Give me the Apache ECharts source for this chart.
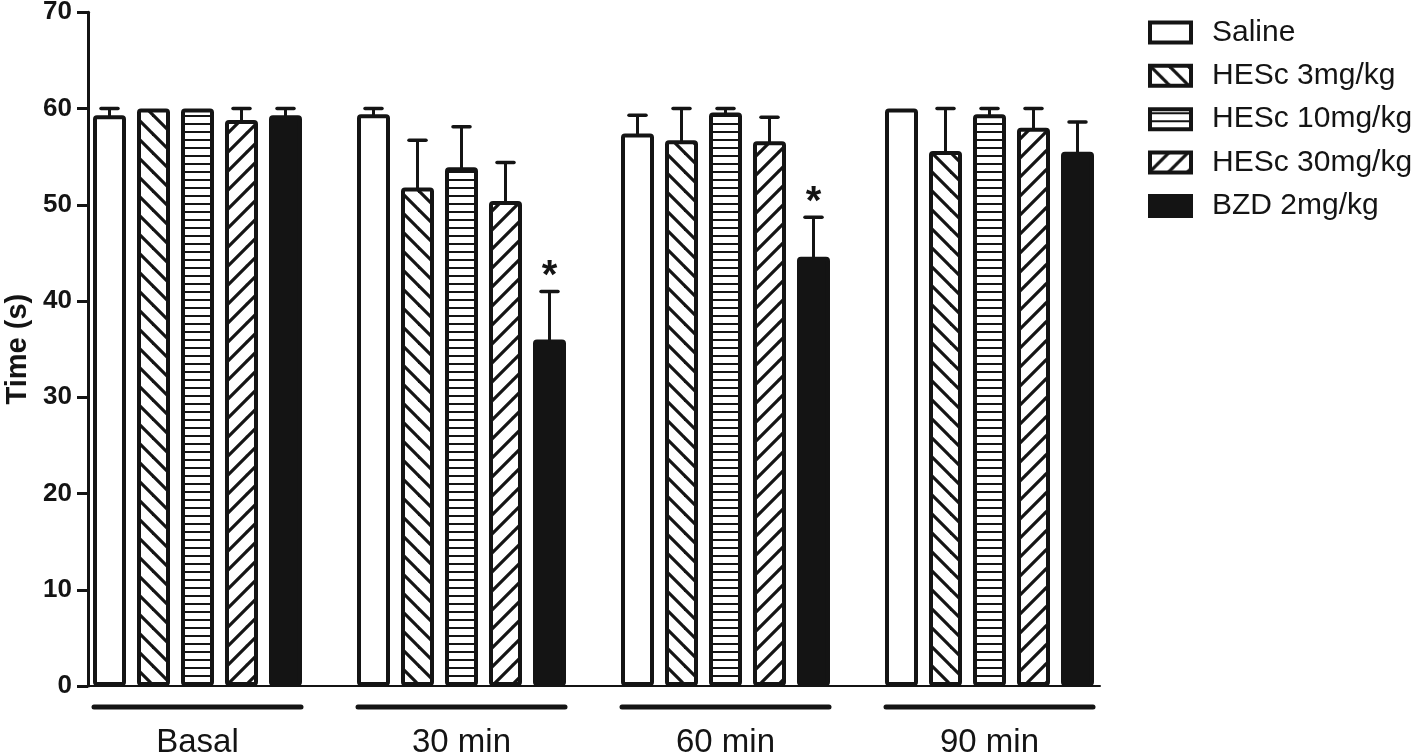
<!DOCTYPE html>
<html>
<head>
<meta charset="utf-8">
<script src="https://cdn.jsdelivr.net/npm/echarts@6/dist/echarts.min.js"></script>
<style>
html,body{margin:0;padding:0;background:#fff;}
#chart{width:1418px;height:753px;}
</style>
</head>
<body>
<div id="chart"></div>
<script>
// ---- data ----
var categories = ['Basal', '30 min', '60 min', '90 min'];
var seriesNames = ['Saline', 'HESc 3mg/kg', 'HESc 10mg/kg', 'HESc 30mg/kg', 'BZD 2mg/kg'];
var saline    = [59.3, 59.4, 57.4, 60.0];
var salineErr = [0.7, 0.6, 1.9, 0];
var hesc3     = [60.0, 51.8, 56.7, 55.6];
var hesc3Err  = [0, 4.9, 3.3, 4.4];
var hesc10    = [60.0, 53.9, 59.6, 59.4];
var hesc10Err = [0, 4.2, 0.4, 0.6];
var hesc30    = [58.8, 50.4, 56.6, 58.0];
var hesc30Err = [1.2, 4.0, 2.5, 2.0];
var bzd       = [59.3, 36.0, 44.6, 55.5];
var bzdErr    = [0.7, 5.0, 4.1, 3.1];
var bzdSig    = ['', '*', '*', ''];
var yTicks    = [0, 10, 20, 30, 40, 50, 60, 70];

var means = [saline, hesc3, hesc10, hesc30, bzd];
var errs  = [salineErr, hesc3Err, hesc10Err, hesc30Err, bzdErr];

// ---- styles ----
var INK = '#141414';
var FONT = '"Liberation Sans", Arial, Helvetica, sans-serif';
var BAR_W = 33, BAR_GAP = 11, BAR_PITCH = BAR_W + BAR_GAP;

function makePattern(kind) {
  var s = kind === 'h' ? 8 : 19;
  var c = document.createElement('canvas');
  c.width = s; c.height = s;
  var g = c.getContext('2d');
  g.fillStyle = '#fff'; g.fillRect(0, 0, s, s);
  g.strokeStyle = INK;
  if (kind === 'h') {
    g.lineWidth = 2;
    g.beginPath(); g.moveTo(0, 4); g.lineTo(s, 4); g.stroke();
  } else {
    g.lineWidth = 3.2;
    g.lineCap = 'square';
    for (var k = -1; k <= 1; k++) {
      g.beginPath();
      if (kind === 'back') { g.moveTo(k * s, 0); g.lineTo(k * s + s, s); }
      else { g.moveTo(k * s, s); g.lineTo(k * s + s, 0); }
      g.stroke();
    }
  }
  return { image: c, repeat: 'repeat' };
}

var fills = ['#ffffff', makePattern('back'), makePattern('h'), makePattern('fwd'), INK];

var barSeries = seriesNames.map(function (name, i) {
  return {
    name: name,
    type: 'bar',
    xAxisIndex: 0, yAxisIndex: 0,
    barWidth: BAR_W,
    barGap: (BAR_GAP / BAR_W * 100).toFixed(2) + '%',
    data: means[i],
    itemStyle: { color: fills[i], borderColor: INK, borderWidth: 4, borderRadius: 2 },
    emphasis: { disabled: true },
    z: 2
  };
});

var errData = [];
for (var s = 0; s < means.length; s++) {
  for (var c = 0; c < categories.length; c++) {
    errData.push([c, means[s][c], s, errs[s][c]]);
  }
}

var sigData = [];
for (var c2 = 0; c2 < categories.length; c2++) {
  if (bzdSig[c2]) sigData.push([c2, bzd[c2] + bzdErr[c2], 4]);
}

var underlineData = categories.map(function (name, i) { return [i, 0]; });

var option = {
  animation: false,
  backgroundColor: '#ffffff',
  textStyle: { fontFamily: FONT },
  grid: [
    { left: 65.5, right: 296.5, top: 12.3, bottom: 67, containLabel: false, outerBoundsMode: 'none' },
    { left: 88, right: 318, top: 12.3, bottom: 67, containLabel: false, outerBoundsMode: 'none' }
  ],
  legend: {
    data: seriesNames,
    orient: 'vertical',
    left: 1148, top: 17.4,
    padding: 0,
    itemWidth: 41, itemHeight: 20,
    itemGap: 13.4,
    icon: 'rect',
    selectedMode: false,
    itemStyle: { borderWidth: 4, borderColor: INK },
    textStyle: { fontSize: 30, color: INK, fontFamily: FONT, lineHeight: 30, padding: [0, 0, 0, 16] }
  },
  xAxis: [
    {
      type: 'category', gridIndex: 0, data: categories,
      axisLine: { show: false }, axisTick: { show: false },
      axisLabel: { fontSize: 33, color: INK, margin: 40, fontFamily: FONT }
    },
    {
      type: 'value', gridIndex: 1, min: 0, max: 1,
      axisLine: { show: true, lineStyle: { color: INK, width: 2 } },
      axisTick: { show: false }, axisLabel: { show: false }, splitLine: { show: false }
    }
  ],
  yAxis: [
    { type: 'value', gridIndex: 0, min: 0, max: 70, interval: 10, show: false },
    {
      type: 'value', gridIndex: 1, min: yTicks[0], max: yTicks[yTicks.length - 1], interval: 10,
      name: 'Time (s)', nameLocation: 'middle', nameGap: 55, nameRotate: 90,
      nameTextStyle: { fontSize: 29, fontWeight: 'bold', color: INK, fontFamily: FONT },
      axisLine: { show: true, lineStyle: { color: INK, width: 3 } },
      axisTick: { show: true, length: 11, lineStyle: { color: INK, width: 3 } },
      axisLabel: { fontSize: 26, fontWeight: 'bold', color: INK, margin: 16, fontFamily: FONT },
      splitLine: { show: false }
    }
  ],
  series: barSeries.concat([
    {
      type: 'custom', name: 'errors', xAxisIndex: 0, yAxisIndex: 0, clip: false, z: 3,
      encode: { x: 0, y: 1 },
      data: errData,
      renderItem: function (params, api) {
        var c = api.value(0), m = api.value(1), s = api.value(2), e = api.value(3);
        if (!e) return null;
        var base = api.coord([c, m]);
        var top = api.coord([c, m + e]);
        var x = base[0] + (s - 2) * BAR_PITCH;
        return {
          type: 'group', children: [
            { type: 'line', shape: { x1: x, y1: base[1] + 2, x2: x, y2: top[1] }, style: { stroke: INK, lineWidth: 3 } },
            { type: 'line', shape: { x1: x - 8.5, y1: top[1], x2: x + 8.5, y2: top[1] }, style: { stroke: INK, lineWidth: 3.5, lineCap: 'round' } }
          ]
        };
      }
    },
    {
      type: 'custom', name: 'sig', xAxisIndex: 0, yAxisIndex: 0, clip: false, z: 3,
      encode: { x: 0, y: 1 },
      data: sigData,
      renderItem: function (params, api) {
        var c = api.value(0), y = api.value(1), s = api.value(2);
        var p = api.coord([c, y]);
        return {
          type: 'text', x: p[0] + (s - 2) * BAR_PITCH, y: p[1] - 14,
          style: { text: bzdSig[c], fontSize: 40, fontWeight: 'bold', fontFamily: FONT, fill: INK, align: 'center', verticalAlign: 'middle' }
        };
      }
    },
    {
      type: 'custom', name: 'underline', xAxisIndex: 0, yAxisIndex: 0, clip: false, z: 3,
      encode: { x: 0, y: 1 },
      data: underlineData,
      renderItem: function (params, api) {
        var p = api.coord([api.value(0), api.value(1)]);
        var half = 2 * BAR_PITCH + BAR_W / 2;
        return {
          type: 'line', shape: { x1: p[0] - half + 1, y1: p[1] + 21, x2: p[0] + half - 1, y2: p[1] + 21 },
          style: { stroke: INK, lineWidth: 5, lineCap: 'round' }
        };
      }
    }
  ])
};

var chart = echarts.init(document.getElementById('chart'), null, { renderer: 'canvas' });
chart.setOption(option);
</script>
</body>
</html>
